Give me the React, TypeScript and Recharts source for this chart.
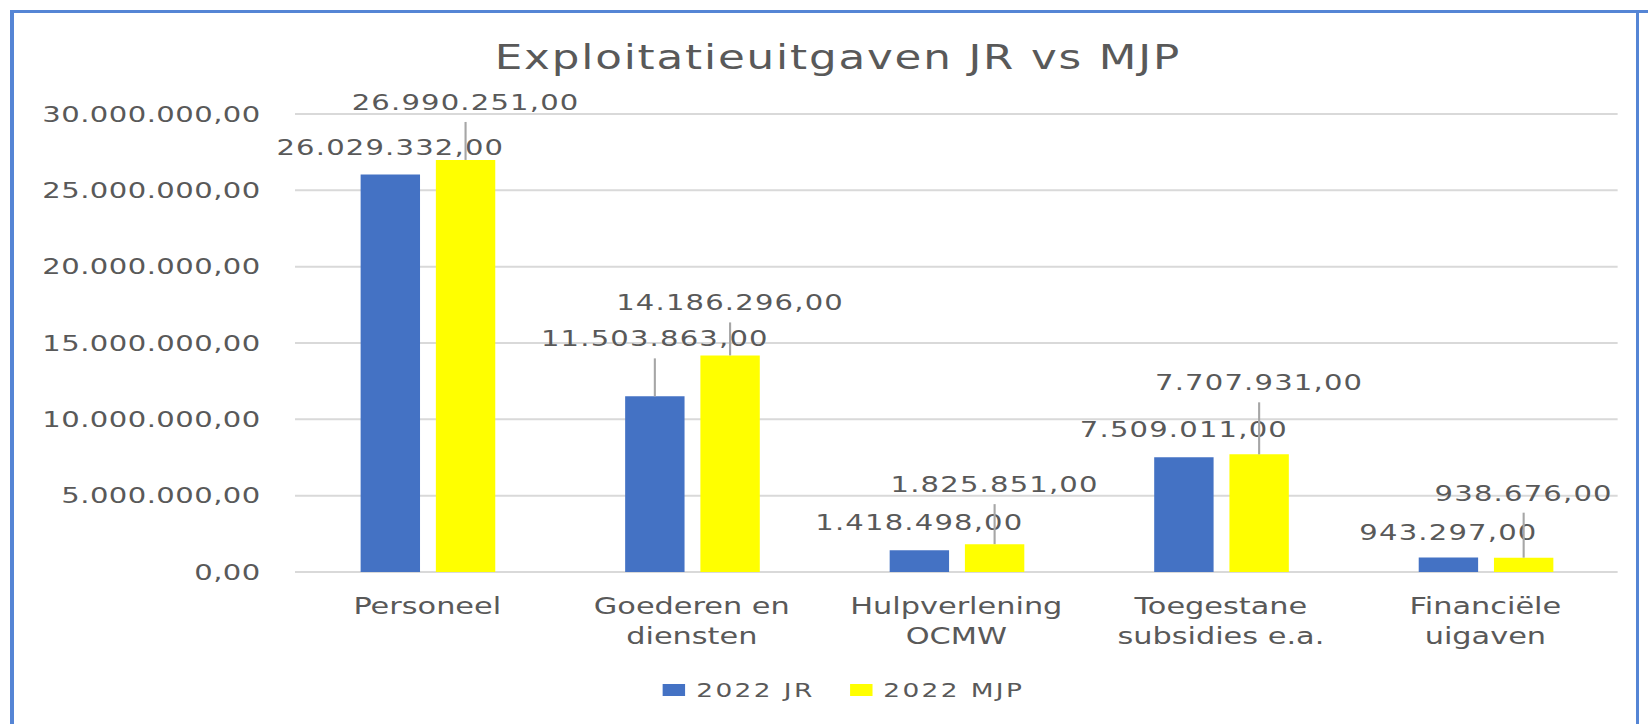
import { BarChart, Bar, XAxis, YAxis, CartesianGrid, Legend, LabelList } from 'recharts';

const CATEGORIES = [
  'Personeel',
  'Goederen en\ndiensten',
  'Hulpverlening\nOCMW',
  'Toegestane\nsubsidies e.a.',
  'Financiële\nuigaven',
];
const JR_2022 = [26029332, 11503863, 1418498, 7509011, 943297];
const MJP_2022 = [26990251, 14186296, 1825851, 7707931, 938676];
const Y_TICKS = [0, 5000000, 10000000, 15000000, 20000000, 25000000, 30000000];

// the Excel labels were dragged up by hand, some with a leader line
const JR_LABEL_LIFT = [28, 58, 28, 28, 26];
const MJP_LABEL_LIFT = [58, 53, 60, 72, 65];

const SERIES = [
  { key: 'jr', name: '2022 JR', color: '#4472C4' },
  { key: 'mjp', name: '2022 MJP', color: '#FFFF00' },
];

const FONT = "'DejaVu Sans', sans-serif";
const TEXT = '#595959';
// the source screenshot is stretched sideways, so the chart is drawn narrow and scaled
const STRETCH = 1.32;
const W = 1648 / STRETCH;
const H = 724;

const data = CATEGORIES.map((name, i) => ({ name, jr: JR_2022[i], mjp: MJP_2022[i] }));

const fmtNL = (v: number) => {
  const [int, dec] = Number(v).toFixed(2).split('.');
  return int.replace(/\B(?=(\d{3})+(?!\d))/g, '.') + ',' + dec;
};

const CategoryTick = ({ x, y, payload }: any) => {
  const lines = String(payload.value).split('\n');
  return (
    <text x={x} y={y} textAnchor="middle" fill={TEXT} fontSize={23} fontFamily={FONT}>
      {lines.map((l, i) => (
        <tspan key={i} x={x} y={y + 42 + i * 30}>{l}</tspan>
      ))}
    </text>
  );
};

const makeDataLabel = (lifts: number[]) => (props: any) => {
  const vb = props.viewBox || props;
  const x = vb.x ?? props.x;
  const y = vb.y ?? props.y;
  const width = vb.width ?? props.width;
  const cx = x + width / 2;
  const lift = lifts[props.index] ?? 28;
  const mid = y - lift;
  return (
    <g>
      <text x={cx} y={mid + 8} textAnchor="middle" fill={TEXT} fontSize={22}
        fontFamily={FONT} letterSpacing={0.9}>
        {fmtNL(props.value)}
      </text>
      {lift > 40 && (
        <line x1={cx} x2={cx} y1={mid + 20} y2={y} stroke="#A6A6A6" strokeWidth={1.6} />
      )}
    </g>
  );
};

const LegendContent = () => (
  <div style={{
    display: 'flex', justifyContent: 'center', alignItems: 'center', paddingLeft: 30,
    fontFamily: FONT, fontSize: 20, lineHeight: '28px', color: TEXT, letterSpacing: 1.8,
  }}>
    {SERIES.map((s, i) => (
      <span key={s.key} style={{ display: 'flex', alignItems: 'center', marginLeft: i ? 27 : 0 }}>
        <span style={{ width: 17, height: 12, background: s.color, marginRight: 8 }} />
        {s.name}
      </span>
    ))}
  </div>
);

export default function App() {
  return (
    <div style={{ position: 'absolute', left: 0, top: 0, width: 1648, height: H, overflow: 'hidden', background: '#fff' }}>
      <div style={{ position: 'absolute', left: 10, top: 10, width: 1638, height: 3, background: '#5585D5' }} />
      <div style={{ position: 'absolute', left: 10, top: 10, width: 4, height: 720, background: '#5585D5' }} />
      <div style={{ position: 'absolute', left: 1636, top: 10, width: 3, height: 720, background: '#5585D5' }} />

      <div style={{
        position: 'absolute', left: 0, top: 0, width: W, height: H,
        transform: `scaleX(${STRETCH})`, transformOrigin: '0 0',
      }}>
        <div style={{
          position: 'absolute', left: 0, top: 41, width: W, paddingLeft: 21, boxSizing: 'border-box',
          textAlign: 'center', fontFamily: FONT, fontSize: 33, lineHeight: '33px',
          letterSpacing: 1.4, color: TEXT,
        }}>
          Exploitatieuitgaven JR vs MJP
        </div>

        <BarChart
          width={W}
          height={H}
          data={data}
          margin={{ top: 114, right: 23, bottom: 0, left: 0 }}
          barCategoryGap="24.8%"
          barGap={12}
        >
          <CartesianGrid vertical={false} stroke="#D9D9D9" strokeWidth={2} />
          <XAxis
            dataKey="name"
            axisLine={false}
            tickLine={false}
            tickSize={0}
            tickMargin={0}
            interval={0}
            height={124}
            tick={<CategoryTick />}
          />
          <YAxis
            width={223.5}
            domain={[0, 30000000]}
            ticks={Y_TICKS}
            axisLine={false}
            tickLine={false}
            tickSize={0}
            tickMargin={26}
            tickFormatter={fmtNL}
            tick={{ fill: TEXT, fontSize: 22, fontFamily: FONT, letterSpacing: 0.35 }}
          />
          <Legend
            verticalAlign="bottom"
            height={28}
            content={<LegendContent />}
            wrapperStyle={{ top: 676, left: 0, width: W, height: 28 }}
          />
          <Bar dataKey="jr" name="2022 JR" fill="#4472C4" isAnimationActive={false}>
            <LabelList dataKey="jr" content={makeDataLabel(JR_LABEL_LIFT)} />
          </Bar>
          <Bar dataKey="mjp" name="2022 MJP" fill="#FFFF00" isAnimationActive={false}>
            <LabelList dataKey="mjp" content={makeDataLabel(MJP_LABEL_LIFT)} />
          </Bar>
        </BarChart>
      </div>
    </div>
  );
}
